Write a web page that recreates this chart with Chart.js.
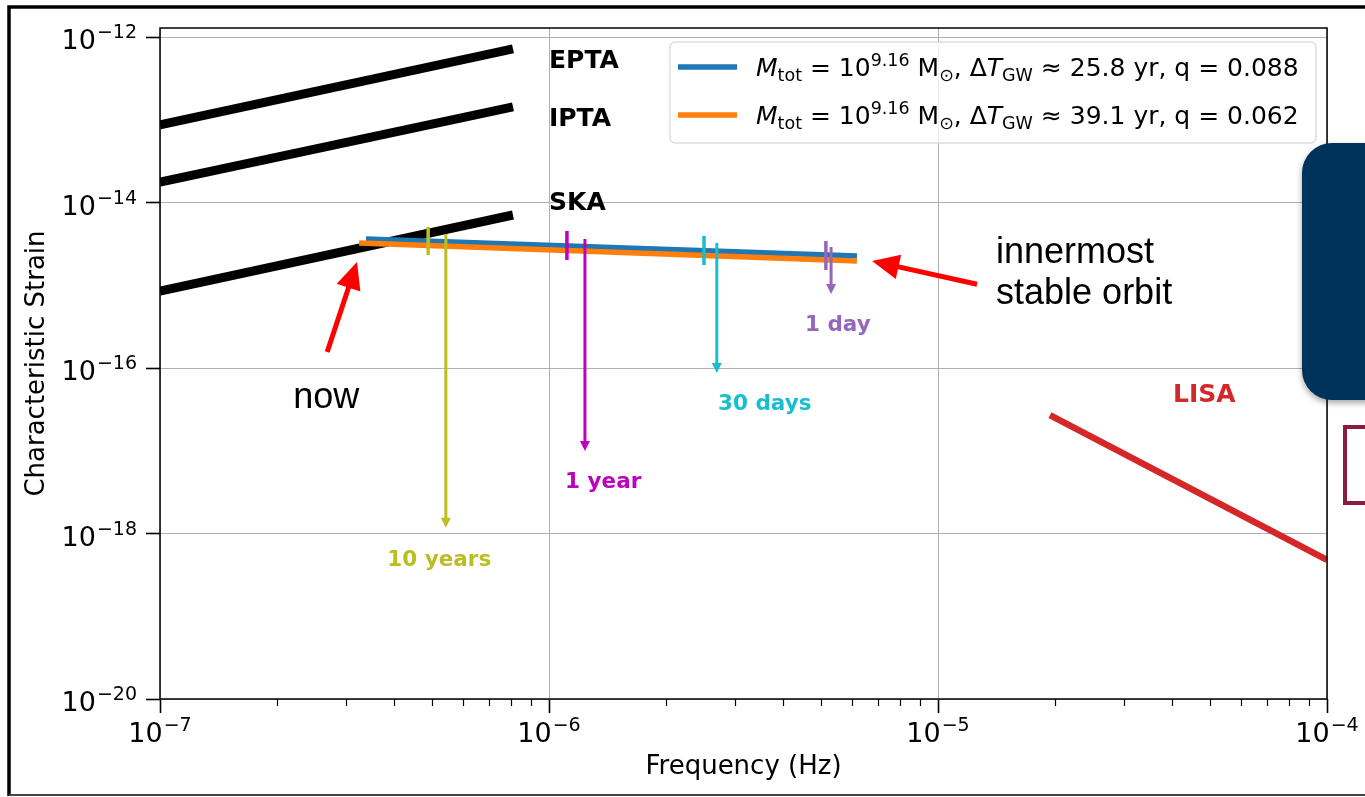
<!DOCTYPE html>
<html lang="en">
<head>
<meta charset="UTF-8">
<title>Characteristic strain vs frequency</title>
<script src="https://cdn.jsdelivr.net/npm/chart.js@4.4.1/dist/chart.umd.min.js"></script>
<style>
  html, body { margin: 0; padding: 0; background: #fff; }
  #wrap { width: 1365px; height: 797px; }
</style>
</head>
<body>
<div id="wrap"><canvas id="strain" width="1365" height="797"></canvas></div>
<script>
// sensitivity curves (straight lines in log-log)
const ptaFreq = [1e-7, 8.08e-7];
const eptaStrain = [8.65e-14, 7.17e-13];
const iptaStrain = [1.77e-14, 1.43e-13];
const skaStrain = [8.5e-16, 7.06e-15];
const lisaFreq = [1.94e-5, 1e-4];
const lisaStrain = [2.7e-17, 4.8e-19];

// binary tracks, from today up to the innermost stable orbit
const trackFreqA = [3.385e-7, 6.19e-6];
const trackStrainA = [3.62e-15, 2.25e-15];
const trackFreqB = [3.25e-7, 6.19e-6];
const trackStrainB = [3.24e-15, 1.96e-15];

// time left before merger
const mergeLabels = ['10 years', '1 year', '30 days', '1 day'];
const mergeColors = ['#bcbd22', '#bf00bf', '#17becf', '#9467bd'];
const tickFreq = [4.89e-7, 1.112e-6, 2.503e-6, 5.15e-6];
const tickTop = [5.06e-15, 4.53e-15, 3.94e-15, 3.43e-15];
const tickBottom = [2.32e-15, 2.02e-15, 1.76e-15, 1.53e-15];
const arrowFreq = [5.43e-7, 1.237e-6, 2.70e-6, 5.31e-6];
const arrowTop = [4.16e-15, 3.62e-15, 3.25e-15, 2.90e-15];
const arrowTip = [1.17e-18, 9.93e-18, 8.7e-17, 7.83e-16];
const mergeLabelFreq = [3.84e-7, 1.1e-6, 2.72e-6, 4.55e-6];
const mergeLabelStrain = [4.79e-19, 4.19e-18, 3.67e-17, 3.31e-16];

// detector names
const curveNames = ['EPTA', 'IPTA', 'SKA', 'LISA'];
const curveNameColors = ['#000', '#000', '#000', '#d62728'];
const curveNameFreq = [1e-6, 1e-6, 1e-6, 4.02e-5];
const curveNameStrain = [5.1e-13, 1.0e-13, 9.6e-15, 4.6e-17];

// red callouts
const noteTexts = ['now', 'innermost', 'stable orbit'];
const noteFreq = [2.2e-7, 1.41e-5, 1.41e-5];
const noteStrain = [3.29e-17, 1.86e-15, 5.93e-16];
const noteTailFreq = [2.69e-7, 1.26e-5];
const noteTailStrain = [1.56e-16, 1.03e-15];
const noteTipFreq = [3.21e-7, 6.77e-6];
const noteTipStrain = [1.91e-15, 1.96e-15];

// axes
const xExps = [-7, -6, -5, -4];
const yExps = [-20, -18, -16, -14, -12];
const xMinorExps = [-7, -6, -5];

// legend: [text, kind]  n=normal i=italic b=subscript p=superscript
const trackColors = ['#1f77b4', '#ff7f0e'];
const legendLabels = [
  [['M', 'i'], ['tot', 'b'], [' = 10', 'n'], ['9.16', 'p'], [' M', 'n'], ['\u2299', 'b'],
   [', \u0394', 'n'], ['T', 'i'], ['GW', 'b'], [' \u2248 25.8 yr, q = 0.088', 'n']],
  [['M', 'i'], ['tot', 'b'], [' = 10', 'n'], ['9.16', 'p'], [' M', 'n'], ['\u2299', 'b'],
   [', \u0394', 'n'], ['T', 'i'], ['GW', 'b'], [' \u2248 39.1 yr, q = 0.062', 'n']]
];

const pts = (xs, ys) => xs.map((x, i) => ({ x: x, y: ys[i] }));
const FONT = '"DejaVu Sans"';

const datasets = [];
datasets.push({ data: pts(ptaFreq, eptaStrain), borderColor: '#000', borderWidth: 9 });
datasets.push({ data: pts(ptaFreq, iptaStrain), borderColor: '#000', borderWidth: 9 });
datasets.push({ data: pts(ptaFreq, skaStrain), borderColor: '#000', borderWidth: 9 });
datasets.push({ data: pts(lisaFreq, lisaStrain), borderColor: '#d62728', borderWidth: 6.5 });
datasets.push({ data: pts(trackFreqA, trackStrainA), borderColor: trackColors[0], borderWidth: 5.5 });
datasets.push({ data: pts(trackFreqB, trackStrainB), borderColor: trackColors[1], borderWidth: 5.5 });
for (let i = 0; i < tickFreq.length; i++) {
  datasets.push({
    data: [{ x: tickFreq[i], y: tickTop[i] }, { x: tickFreq[i], y: tickBottom[i] }],
    borderColor: mergeColors[i], borderWidth: 3.5
  });
}
datasets.forEach((d, i) => {
  d.showLine = true;
  d.pointRadius = 0;
  d.fill = false;
  d.order = -i;   // later datasets on top
});

function arrow(ctx, x0, y0, x1, y1, lw, headLen, headW, color) {
  const a = Math.atan2(y1 - y0, x1 - x0);
  const c = Math.cos(a), s = Math.sin(a);
  const bx = x1 - headLen * c, by = y1 - headLen * s;
  ctx.strokeStyle = color;
  ctx.fillStyle = color;
  ctx.lineWidth = lw;
  ctx.lineCap = 'butt';
  ctx.beginPath();
  ctx.moveTo(x0, y0);
  ctx.lineTo(bx + c, by + s);
  ctx.stroke();
  ctx.beginPath();
  ctx.moveTo(x1, y1);
  ctx.lineTo(bx + headW / 2 * s, by - headW / 2 * c);
  ctx.lineTo(bx - headW / 2 * s, by + headW / 2 * c);
  ctx.closePath();
  ctx.fill();
}

// "10" with a superscript exponent, y is the baseline of "10"
function powLabel(ctx, exp, x, y, align) {
  const e = '\u2212' + Math.abs(exp);
  ctx.font = '27px ' + FONT;
  const w1 = ctx.measureText('10').width;
  ctx.font = '19px ' + FONT;
  const w2 = ctx.measureText(e).width;
  const total = w1 + 1 + w2;
  const left = align === 'right' ? x - total : x - total / 2;
  ctx.fillStyle = '#000';
  ctx.textAlign = 'left';
  ctx.textBaseline = 'alphabetic';
  ctx.font = '27px ' + FONT;
  ctx.fillText('10', left, y);
  ctx.font = '19px ' + FONT;
  ctx.fillText(e, left + w1 + 1, y - 11);
}

function richText(ctx, pieces, x, y) {
  const size = 25;
  ctx.textAlign = 'left';
  ctx.textBaseline = 'alphabetic';
  ctx.fillStyle = '#000';
  pieces.forEach(p => {
    let font = size + 'px ' + FONT, dy = 0;
    if (p[1] === 'i') font = 'italic ' + size + 'px ' + FONT;
    if (p[1] === 'b') { font = (size * 0.7) + 'px ' + FONT; dy = 5; }
    if (p[1] === 'p') { font = (size * 0.7) + 'px ' + FONT; dy = -10; }
    ctx.font = font;
    ctx.fillText(p[0], x, y + dy);
    x += ctx.measureText(p[0]).width;
  });
}

function roundRect(ctx, x, y, w, h, r) {
  ctx.beginPath();
  ctx.moveTo(x + r, y);
  ctx.lineTo(x + w - r, y);
  ctx.arcTo(x + w, y, x + w, y + r, r);
  ctx.lineTo(x + w, y + h - r);
  ctx.arcTo(x + w, y + h, x + w - r, y + h, r);
  ctx.lineTo(x + r, y + h);
  ctx.arcTo(x, y + h, x, y + h - r, r);
  ctx.lineTo(x, y + r);
  ctx.arcTo(x, y, x + r, y, r);
  ctx.closePath();
}

const decorations = {
  id: 'decorations',
  beforeDraw(chart) {
    const ctx = chart.ctx;
    ctx.save();
    ctx.fillStyle = '#fff';
    ctx.fillRect(0, 0, chart.width, chart.height);
    ctx.restore();
  },
  afterDatasetsDraw(chart) {
    const ctx = chart.ctx;
    const xs = chart.scales.x, ys = chart.scales.y;
    const area = chart.chartArea;
    ctx.save();

    // merger arrows
    for (let i = 0; i < arrowFreq.length; i++) {
      const x = xs.getPixelForValue(arrowFreq[i]);
      arrow(ctx, x, ys.getPixelForValue(arrowTop[i]), x, ys.getPixelForValue(arrowTip[i]),
            3, 10, 10, mergeColors[i]);
    }
    // red callout arrows
    for (let i = 0; i < noteTipFreq.length; i++) {
      arrow(ctx, xs.getPixelForValue(noteTailFreq[i]), ys.getPixelForValue(noteTailStrain[i]),
            xs.getPixelForValue(noteTipFreq[i]), ys.getPixelForValue(noteTipStrain[i]),
            5, 27, 25, '#ff0000');
    }

    // labels on the plot
    ctx.textAlign = 'left';
    ctx.textBaseline = 'middle';
    curveNames.forEach((t, i) => {
      ctx.font = 'bold 25px ' + FONT;
      ctx.fillStyle = curveNameColors[i];
      ctx.fillText(t, xs.getPixelForValue(curveNameFreq[i]), ys.getPixelForValue(curveNameStrain[i]));
    });
    mergeLabels.forEach((t, i) => {
      ctx.font = 'bold 21.5px ' + FONT;
      ctx.fillStyle = mergeColors[i];
      ctx.fillText(t, xs.getPixelForValue(mergeLabelFreq[i]), ys.getPixelForValue(mergeLabelStrain[i]));
    });
    ctx.textBaseline = 'alphabetic';
    ctx.font = '36px "Liberation Sans"';
    ctx.fillStyle = '#000';
    noteTexts.forEach((t, i) => {
      ctx.fillText(t, xs.getPixelForValue(noteFreq[i]), ys.getPixelForValue(noteStrain[i]));
    });

    // axes frame
    ctx.strokeStyle = '#000';
    ctx.lineWidth = 1.5;
    ctx.strokeRect(area.left, area.top, area.right - area.left, area.bottom - area.top);

    // minor ticks on the frequency axis
    ctx.lineWidth = 1.2;
    ctx.beginPath();
    xMinorExps.forEach(e => {
      for (let m = 2; m <= 9; m++) {
        const x = Math.round(xs.getPixelForValue(m * Math.pow(10, e))) + 0.5;
        ctx.moveTo(x, area.bottom);
        ctx.lineTo(x, area.bottom + 7);
      }
    });
    ctx.stroke();

    // tick labels
    xExps.forEach(e => powLabel(ctx, e, xs.getPixelForValue(Math.pow(10, e)), area.bottom + 43, 'center'));
    yExps.forEach(e => powLabel(ctx, e, area.left - 23, ys.getPixelForValue(Math.pow(10, e)) + 12, 'right'));

    // axis titles
    ctx.fillStyle = '#000';
    ctx.font = '26px ' + FONT;
    ctx.textAlign = 'center';
    ctx.textBaseline = 'middle';
    ctx.fillText('Frequency (Hz)', (area.left + area.right) / 2, 767);
    ctx.save();
    ctx.translate(37, (area.top + area.bottom) / 2);
    ctx.rotate(-Math.PI / 2);
    ctx.fillText('Characteristic Strain', 0, 0);
    ctx.restore();

    // legend
    const lw = 646, lh = 101;
    const lx = area.right - 11 - lw, ly = area.top + 14;
    roundRect(ctx, lx, ly, lw, lh, 5);
    ctx.fillStyle = 'rgba(255,255,255,0.8)';
    ctx.fill();
    ctx.strokeStyle = '#cccccc';
    ctx.lineWidth = 1;
    ctx.stroke();
    legendLabels.forEach((pieces, i) => {
      const cy = ly + 25 + i * 48;
      ctx.strokeStyle = trackColors[i];
      ctx.lineWidth = 5.5;
      ctx.beginPath();
      ctx.moveTo(lx + 8, cy);
      ctx.lineTo(lx + 67, cy);
      ctx.stroke();
      richText(ctx, pieces, lx + 86, cy + 9);
    });

    ctx.restore();
  },
  afterDraw(chart) {
    const ctx = chart.ctx;
    ctx.save();
    // slide overlay: navy panel and outlined box on the right
    ctx.shadowColor = 'rgba(0,0,0,0.35)';
    ctx.shadowBlur = 6;
    ctx.shadowOffsetY = 3;
    roundRect(ctx, 1302, 143, 120, 257, 30);
    ctx.fillStyle = '#00335c';
    ctx.fill();
    ctx.shadowColor = 'transparent';
    ctx.strokeStyle = '#8a1c3f';
    ctx.lineWidth = 4;
    ctx.strokeRect(1345, 427, 60, 76);
    // outer frame
    ctx.strokeStyle = '#000';
    ctx.lineWidth = 3.5;
    ctx.beginPath();
    ctx.moveTo(9, 796);
    ctx.lineTo(9, 7);
    ctx.lineTo(1365, 7);
    ctx.stroke();
    ctx.strokeStyle = '#444';
    ctx.lineWidth = 2;
    ctx.beginPath();
    ctx.moveTo(9, 795);
    ctx.lineTo(1365, 795);
    ctx.stroke();
    ctx.restore();
  }
};

new Chart(document.getElementById('strain'), {
  type: 'scatter',
  data: { datasets: datasets },
  options: {
    responsive: false,
    animation: false,
    devicePixelRatio: 1,
    layout: { padding: { left: 0, top: 28, right: 38, bottom: 0 } },
    plugins: { legend: { display: false }, tooltip: { enabled: false } },
    scales: {
      x: {
        type: 'logarithmic',
        position: 'bottom',
        min: 1e-7,
        max: 1e-4,
        afterBuildTicks: s => { s.ticks = xExps.map(e => ({ value: Math.pow(10, e) })); },
        afterFit: s => { s.height = 98; },
        ticks: { display: false },
        border: { display: false },
        grid: { color: '#b0b0b0', lineWidth: 1, tickLength: 14, tickColor: '#000', tickWidth: 1.6 }
      },
      y: {
        type: 'logarithmic',
        position: 'left',
        min: 1e-20,
        max: 1.285e-12,
        afterBuildTicks: s => { s.ticks = yExps.map(e => ({ value: Math.pow(10, e) })); },
        afterFit: s => { s.width = 160; },
        ticks: { display: false },
        border: { display: false },
        grid: { color: '#b0b0b0', lineWidth: 1, tickLength: 14, tickColor: '#000', tickWidth: 1.6 }
      }
    }
  },
  plugins: [decorations]
});
</script>
</body>
</html>
